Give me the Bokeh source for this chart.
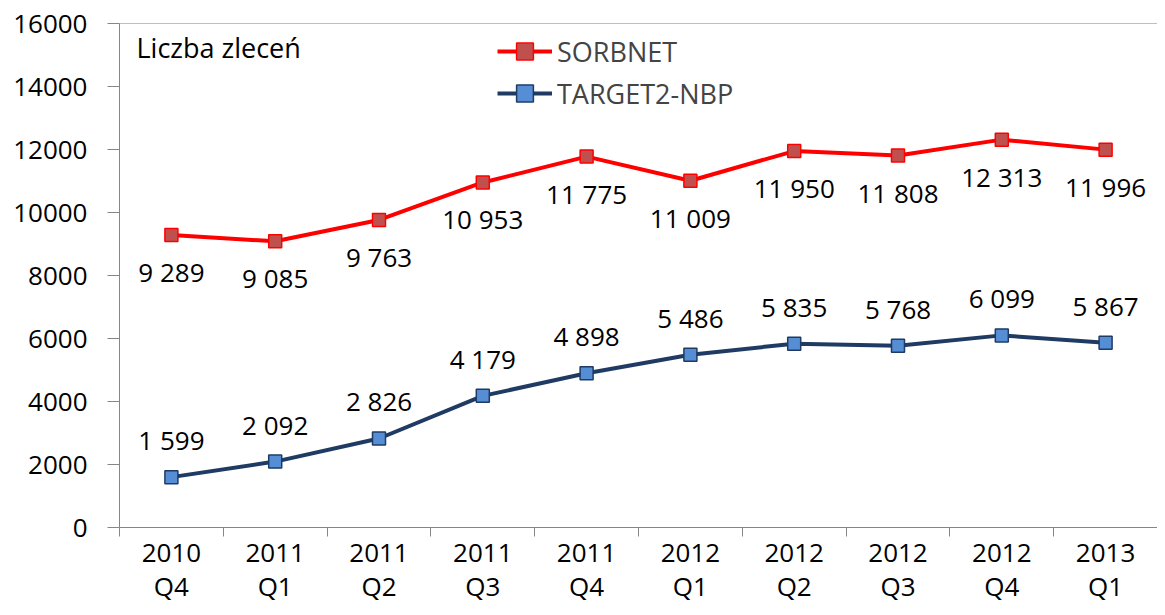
from bokeh.plotting import figure
from bokeh.models import Range1d, FixedTicker, LinearAxis, ColumnDataSource, Label, Legend, LegendItem
from bokeh.core.properties import value
from bokeh.embed import file_html
from bokeh.resources import INLINE

categories = ["2010\nQ4", "2011\nQ1", "2011\nQ2", "2011\nQ3", "2011\nQ4",
              "2012\nQ1", "2012\nQ2", "2012\nQ3", "2012\nQ4", "2013\nQ1"]
sorbnet = [9289, 9085, 9763, 10953, 11775, 11009, 11950, 11808, 12313, 11996]
target2 = [1599, 2092, 2826, 4179, 4898, 5486, 5835, 5768, 6099, 5867]
y_ticks = [0, 2000, 4000, 6000, 8000, 10000, 12000, 14000, 16000]

FONT = "Open Sans"

def fmt(v):
    return f"{v:,}".replace(",", " ")

n = len(categories)
xs = [i + 0.5 for i in range(n)]
bounds = [i for i in range(n + 1)]
years = [c.split("\n")[0] for c in categories]
quarters = [c.split("\n")[1] for c in categories]

p = figure(width=1157, height=607, output_backend="svg", toolbar_location=None,
           x_range=Range1d(0, n), y_range=Range1d(0, 16000),
           min_border_left=119, min_border_right=0, min_border_top=23, min_border_bottom=80)
p.outline_line_color = None
p.xgrid.visible = False
p.ygrid.visible = False
p.background_fill_color = "white"

ya = p.yaxis[0]
ya.ticker = FixedTicker(ticks=y_ticks)
ya.axis_line_color = "#868686"
ya.major_tick_line_color = "#868686"
ya.major_tick_out = 12
ya.major_tick_in = 0
ya.minor_tick_line_color = None
ya.major_label_standoff = 20
ya.major_label_text_font = FONT
ya.major_label_text_font_size = "26px"
ya.major_label_text_color = "black"

xa = p.xaxis[0]
xa.ticker = FixedTicker(ticks=xs, minor_ticks=bounds)
xa.major_label_overrides = {x: c for x, c in zip(xs, years)}
xa.axis_line_color = "#868686"
xa.major_tick_line_color = None
xa.minor_tick_line_color = "#868686"
xa.minor_tick_out = 9
xa.minor_tick_in = 0
xa.major_tick_out = 0
xa.major_tick_in = 0
xa.major_label_standoff = 7
xa.major_label_text_font = FONT
xa.major_label_text_font_size = "26px"
xa.major_label_text_color = "black"

qa = LinearAxis(ticker=FixedTicker(ticks=xs),
                major_label_overrides={x: c for x, c in zip(xs, quarters)},
                axis_line_color=None, major_tick_line_color=None, minor_tick_line_color=None,
                major_tick_out=0, major_tick_in=0, major_label_standoff=3,
                major_label_text_font=FONT, major_label_text_font_size="26px",
                major_label_text_color="black")
p.add_layout(qa, "below")

top = LinearAxis(ticker=FixedTicker(ticks=[]), axis_line_color="#BFBFBF",
                 major_label_text_font_size="0px", major_tick_line_color=None,
                 minor_tick_line_color=None)
p.add_layout(top, "above")

src = ColumnDataSource(dict(x=xs, s=sorbnet, t=target2,
                            sl=[fmt(v) for v in sorbnet], tl=[fmt(v) for v in target2]))

l1 = p.line("x", "s", source=src, line_color="#FF0000", line_width=4)
m1 = p.scatter("x", "s", source=src, marker="square", size=13,
               fill_color="#C0504D", line_color="#FF0000", line_width=1.5)
l2 = p.line("x", "t", source=src, line_color="#1F3B63", line_width=4)
m2 = p.scatter("x", "t", source=src, marker="square", size=13,
               fill_color="#558ED5", line_color="#1F3B63", line_width=1.5)

p.text("x", "s", text="sl", source=src, text_align="center", text_baseline="middle",
       y_offset=37, text_font=value(FONT), text_font_size="26px", text_color="black")
p.text("x", "t", text="tl", source=src, text_align="center", text_baseline="middle",
       y_offset=-37, text_font=value(FONT), text_font_size="26px", text_color="black")

p.add_layout(Label(x=17, y=480, x_units="screen", y_units="screen", text="Liczba zleceń",
                   text_font=FONT, text_font_size="27px", text_color="black",
                   text_baseline="middle"))

legend = Legend(items=[LegendItem(label="SORBNET", renderers=[l1, m1]),
                       LegendItem(label="TARGET2-NBP", renderers=[l2, m2])],
                location=(378, 413), orientation="vertical",
                label_text_font=FONT, label_text_font_size="27px",
                glyph_width=55, glyph_height=42, label_height=42, label_standoff=5,
                spacing=0, padding=0, margin=0, border_line_color=None,
                background_fill_alpha=0)
p.add_layout(legend, "center")

open("out.html", "w").write(file_html(p, INLINE))
